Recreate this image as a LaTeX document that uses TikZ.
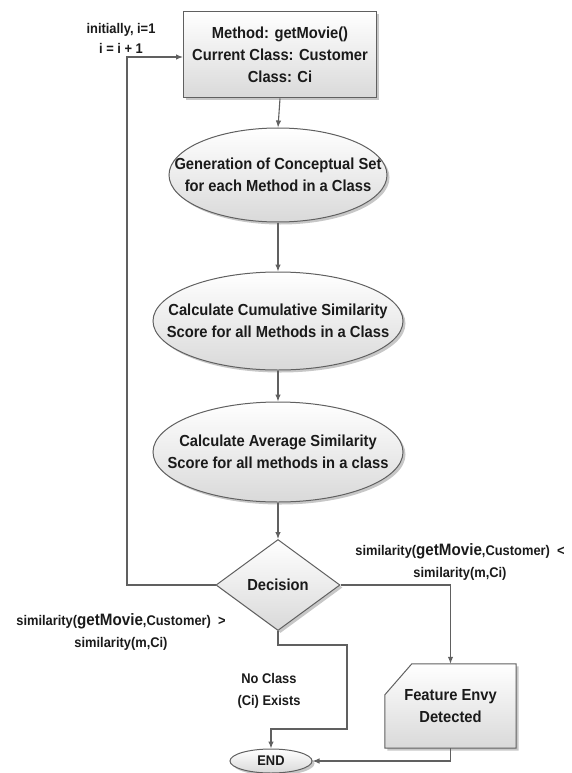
\documentclass[tikz,border=0pt]{standalone}
\usepackage{fontspec}
\setmainfont{Liberation Sans}[FakeStretch=0.92]
\usetikzlibrary{shapes.geometric,arrows.meta,shadows,backgrounds}
\definecolor{linegray}{HTML}{606060}
\definecolor{inkblack}{HTML}{1A1A1A}
\definecolor{fillbot}{HTML}{D9D9D9}
\tikzset{
  basefont/.style={font=\fontsize{16}{22}\selectfont\bfseries, text=inkblack, align=center},
  smallfont/.style={font=\fontsize{14}{21}\selectfont\bfseries, text=inkblack, align=center},
  shapefill/.style={draw=linegray, line width=1pt, top color=white, bottom color=fillbot,
    drop shadow={shadow xshift=2.5pt, shadow yshift=-2.5pt, fill=black, opacity=0.22}},
  procbox/.style={basefont, shapefill, rectangle, minimum width=193pt, minimum height=86pt, inner sep=0pt},
  stage/.style={shapefill, ellipse, inner sep=0pt},
  decide/.style={basefont, shapefill, diamond, aspect=1.36, minimum width=124pt, minimum height=91pt, inner sep=0pt},
  flow/.style={draw=linegray, line width=1.1pt, -{Latex[length=7pt,width=5.5pt]}},
  plain/.style={draw=linegray, line width=1.1pt},
}
\newcommand{\gm}{{\fontsize{16.5}{22}\selectfont getMovie}}
\begin{document}
\begin{tikzpicture}[x=1pt,y=-1pt]
\useasboundingbox (0,0) rectangle (571,773);

% process column
\node[procbox] (box) at (280,55) {Method: getMovie()\\Current Class: Customer\\Class: Ci};
\node[stage, minimum width=218pt, minimum height=94pt,
  label={[basefont]center:Generation of Conceptual Set\\for each Method in a Class}] (ell1) at (278,175) {};
\node[stage, minimum width=250pt, minimum height=98pt,
  label={[basefont]center:Calculate Cumulative Similarity\\Score for all Methods in a Class}] (ell2) at (278,321) {};
\node[stage, minimum width=250pt, minimum height=100pt,
  label={[basefont]center:Calculate Average Similarity\\Score for all methods in a class}] (ell3) at (278,452) {};
\node[decide] (dec) at (278,585) {Decision};

% outcome: feature envy (card with a cut corner)
\node[basefont, minimum width=131pt, minimum height=84pt, inner sep=0pt] (fe) at (450.5,706) {Feature Envy\\Detected};
\begin{scope}[on background layer]
  \path[shapefill] ([yshift=-31pt]fe.north west) -- ([xshift=27pt]fe.north west) -- (fe.north east)
    -- (fe.south east) -- (fe.south west) -- cycle;
\end{scope}

\node[stage, minimum width=82pt, minimum height=24pt,
  label={[smallfont]center:END}] (endn) at (271,761) {};

% annotations
\node[font=\fontsize{14}{20}\selectfont\bfseries, text=inkblack, align=center] (loopnote) at (121,38) {initially, i=1\\i = i + 1};
\node[smallfont, font=\fontsize{14}{22}\selectfont\bfseries] (lessnote) at (460,561.5) {similarity(\gm,Customer)\ \ <\\similarity(m,Ci)};
\node[smallfont, font=\fontsize{14}{22}\selectfont\bfseries] (greatnote) at (121,631.5) {similarity(\gm,Customer)\ \ >\\similarity(m,Ci)};
\node[smallfont, font=\fontsize{14}{22}\selectfont\bfseries] (noclass) at (269,691) {No Class\\(Ci) Exists};

% connectors
\coordinate (lp) at (127,57);
\coordinate (n1) at (347,645);
\coordinate (n2) at (347,729);
\draw[flow] (box.south) -- (ell1.north);
\draw[flow] (ell1.south) -- (ell2.north);
\draw[flow] (ell2.south) -- (ell3.north);
\draw[flow] (ell3.south) -- (dec.north);
\draw[flow] (dec.west) -| (lp) -- (box.west |- lp);
\draw[flow] (dec.east) -| (fe.north);
\draw[flow] (dec.south) |- (n1) -- (n2) -| (endn.north);
\draw[flow] (fe.south) |- (endn.east);
\end{tikzpicture}
\end{document}
